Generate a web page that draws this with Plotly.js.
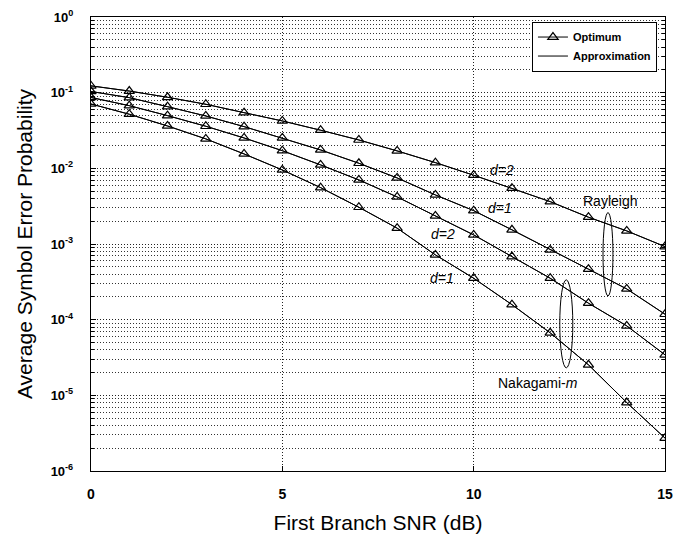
<!DOCTYPE html>
<html>
<head>
<meta charset="utf-8">
<script src="https://cdn.plot.ly/plotly-3.0.1.min.js"></script>
<style>html,body{margin:0;padding:0;background:#fff;}#chart{width:681px;height:540px;}</style>
</head>
<body>
<div id="chart"></div>
<script>
// First branch SNR (dB)
const snr = [0,1,2,3,4,5,6,7,8,9,10,11,12,13,14,15];
// Average symbol error probability
const rayleighD2 = [0.123,0.105,0.0869,0.0703,0.0544,0.0423,0.0319,0.0237,0.0170,0.0119,0.00811,0.00546,0.00363,0.00226,0.00149,0.000924];
const rayleighD1 = [0.1037,0.0859,0.0653,0.0492,0.0356,0.0252,0.0175,0.01167,0.00747,0.00445,0.00276,0.00154,0.000836,0.000465,0.000255,0.000118];
const nakagamiD2 = [0.0864,0.0673,0.0497,0.0360,0.0252,0.0171,0.0111,0.00703,0.00419,0.00235,0.00132,0.000682,0.000353,0.000165,0.0000828,0.0000343];
const nakagamiD1 = [0.0709,0.0519,0.0363,0.0245,0.0155,0.00952,0.00556,0.00306,0.00162,0.000718,0.000353,0.000158,0.0000670,0.0000253,0.00000803,0.00000272];
const seriesList = [rayleighD2, rayleighD1, nakagamiD2, nakagamiD1];
const yTickVals = [1,0.1,0.01,0.001,0.0001,0.00001,0.000001];
const yTickText = ['10<sup>0</sup>','10<sup>-1</sup>','10<sup>-2</sup>','10<sup>-3</sup>','10<sup>-4</sup>','10<sup>-5</sup>','10<sup>-6</sup>'];
const xTickVals = [0,5,10,15];

const traces = [];
seriesList.forEach((s, i) => {
  traces.push({
    x: snr, y: s, type: 'scatter', mode: 'lines',
    name: 'Approximation', legendrank: 2, showlegend: i === 0,
    line: {color: '#000', width: 1}, hoverinfo: 'skip'
  });
});
seriesList.forEach((s, i) => {
  traces.push({
    x: snr, y: s, type: 'scatter', mode: 'lines+markers',
    name: 'Optimum', legendrank: 1, showlegend: i === 0,
    line: {color: '#000', width: 1},
    marker: {symbol: 'triangle-up-open', size: 9, color: '#000', line: {width: 1.2, color: '#000'}}
  });
});

const ann = (x, ly, text) => ({x: x, y: ly, xref: 'x', yref: 'y', text: text, showarrow: false,
  font: {family: 'Liberation Sans, Arial, sans-serif', size: 14, color: '#000'}});

const gridDash = '1px,2px';

const layout = {
  width: 681, height: 540,
  margin: {l: 91, r: 16, t: 17, b: 69},
  paper_bgcolor: '#fff', plot_bgcolor: '#fff',
  font: {family: 'Liberation Sans, Arial, sans-serif', color: '#000'},
  showlegend: true,
  legend: {x: 0.986, xanchor: 'right', y: 0.99, yanchor: 'top',
    bgcolor: '#fff', bordercolor: '#000', borderwidth: 1,
    font: {size: 11, family: 'Liberation Sans, Arial, sans-serif', weight: 'bold'},
    tracegroupgap: 0, itemwidth: 30},
  xaxis: {
    range: [0, 15], tickvals: xTickVals, ticks: 'inside', ticklen: 5, tickcolor: '#000',
    showline: true, linecolor: '#000', linewidth: 1.2, mirror: true,
    showgrid: true, gridcolor: '#222', griddash: gridDash, gridwidth: 1,
    zeroline: false,
    tickfont: {size: 14, weight: 'bold'},
    ticklabelstandoff: 10,
    title: {text: 'First Branch SNR (dB)', font: {size: 21}, standoff: 14}
  },
  yaxis: {
    type: 'log', range: [-6, 0], tickvals: yTickVals, ticktext: yTickText,
    ticks: 'inside', ticklen: 5, tickcolor: '#000',
    showline: true, linecolor: '#000', linewidth: 1.2, mirror: 'ticks',
    showgrid: true, gridcolor: '#222', griddash: gridDash, gridwidth: 1,
    zeroline: false,
    tickfont: {size: 13, weight: 'bold'},
    ticklabelstandoff: 14,
    minor: {dtick: 'D1', ticks: 'inside', ticklen: 3, tickcolor: '#000', showgrid: true, gridcolor: '#333', griddash: gridDash, gridwidth: 1},
    title: {text: 'Average Symbol Error Probability', font: {size: 21}, standoff: 12}
  },
  annotations: [
    ann(10.75, -2.02, '<i>d=2</i>'),
    ann(10.69, -2.52, '<i>d=1</i>'),
    ann(9.20, -2.867, '<i>d=2</i>'),
    ann(9.17, -3.448, '<i>d=1</i>'),
    ann(13.55, -2.431, 'Rayleigh'),
    ann(11.67, -4.835, 'Nakagami-<i>m</i>')
  ],
  shapes: [
    {type: 'circle', xref: 'x', yref: 'y', x0: 13.38, x1: 13.64, y0: 0.0026, y1: 0.000206, line: {color: '#000', width: 1}},
    {type: 'circle', xref: 'x', yref: 'y', x0: 12.25, x1: 12.59, y0: 0.000336, y1: 0.0000231, line: {color: '#000', width: 1}}
  ]
};

Plotly.newPlot('chart', traces, layout, {displayModeBar: false, staticPlot: true});
</script>
</body>
</html>
